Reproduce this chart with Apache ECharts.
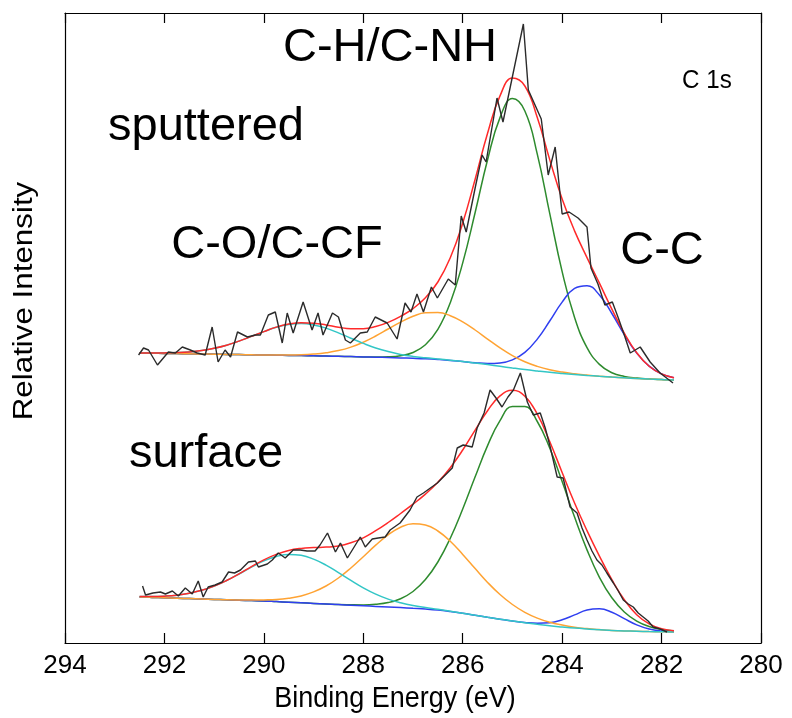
<!DOCTYPE html>
<html>
<head>
<meta charset="utf-8">
<script src="https://cdn.jsdelivr.net/npm/echarts@6/dist/echarts.min.js"></script>
<style>
html,body{margin:0;padding:0;background:#fff;}
#chart{width:792px;height:718px;}
</style>
</head>
<body>
<div id="chart"></div>
<script>
// Binding energy grid of the fitted curves (eV)
const fitE = [292.5, 292.25, 292.0, 291.75, 291.5, 291.25, 291.0, 290.75, 290.5, 290.25, 290.0, 289.75, 289.5, 289.25, 289.0, 288.75, 288.5, 288.25, 288.0, 287.75, 287.5, 287.25, 287.0, 286.75, 286.5, 286.25, 286.0, 285.75, 285.5, 285.25, 285.0, 284.75, 284.5, 284.25, 284.0, 283.75, 283.5, 283.25, 283.0, 282.75, 282.5, 282.25, 282.0, 281.75];

// Sputtered (upper) spectrum
const upperFit = [290.1, 290.0, 290.1, 290.4, 291.1, 292.5, 294.7, 297.8, 301.9, 306.6, 311.4, 315.9, 318.9, 320.2, 319.8, 318.1, 315.8, 314.3, 314.3, 316.4, 320.6, 326.6, 334.4, 345.2, 361.0, 385.2, 419.9, 463.8, 509.8, 547.1, 564.9, 557.0, 525.4, 483.4, 443.9, 412.1, 385.4, 359.8, 333.9, 309.8, 290.3, 276.8, 269.1, 265.2];
const upperCH = [290.0, 289.8, 289.6, 289.4, 289.2, 289.0, 288.8, 288.6, 288.4, 288.2, 288.0, 287.8, 287.6, 287.4, 287.2, 287.0, 286.7, 286.4, 286.1, 286.0, 286.2, 287.3, 290.5, 298.2, 313.6, 340.3, 380.1, 430.5, 483.2, 525.4, 544.4, 532.0, 488.9, 429.6, 371.3, 325.5, 295.4, 278.6, 270.3, 266.6, 264.9, 263.9, 263.4, 263.0];
const upperCC = [290.0, 289.8, 289.6, 289.4, 289.2, 289.0, 288.8, 288.6, 288.4, 288.2, 288.0, 287.8, 287.6, 287.4, 287.2, 287.0, 286.7, 286.4, 286.1, 285.8, 285.5, 285.1, 284.7, 284.2, 283.5, 282.6, 281.4, 280.3, 279.5, 280.0, 283.1, 290.6, 303.9, 322.0, 340.9, 354.6, 357.3, 347.9, 329.5, 308.4, 289.9, 276.8, 269.1, 265.2];
const upperCO = [290.0, 289.8, 289.6, 289.4, 289.2, 289.0, 288.8, 288.6, 288.4, 288.2, 288.0, 288.0, 288.0, 288.2, 288.9, 290.2, 292.4, 295.9, 300.8, 307.0, 314.0, 320.9, 326.7, 330.2, 330.4, 327.3, 321.1, 313.0, 303.9, 295.1, 287.4, 281.2, 276.6, 273.2, 270.9, 269.2, 267.9, 266.7, 265.9, 265.2, 264.5, 263.9, 263.4, 263.0];
const upperCF = [290.1, 290.0, 290.1, 290.4, 291.1, 292.5, 294.7, 297.8, 301.9, 306.6, 311.4, 315.7, 318.5, 319.4, 318.1, 314.9, 310.1, 304.8, 299.6, 295.0, 291.4, 288.6, 286.6, 285.2, 284.0, 282.8, 281.5, 280.0, 278.4, 276.7, 275.0, 273.4, 272.0, 270.7, 269.6, 268.6, 267.6, 266.7, 265.9, 265.2, 264.5, 263.9, 263.4, 263.0];
const upperRawE = [292.52, 292.42, 292.32, 292.14, 291.92, 291.78, 291.64, 291.48, 291.34, 291.18, 291.04, 290.92, 290.78, 290.67, 290.53, 290.33, 290.17, 290.07, 289.91, 289.77, 289.63, 289.53, 289.41, 289.21, 289.03, 288.91, 288.81, 288.62, 288.50, 288.36, 288.26, 288.06, 287.92, 287.76, 287.52, 287.32, 287.16, 287.04, 286.92, 286.79, 286.63, 286.51, 286.29, 286.15, 286.03, 285.93, 285.75, 285.61, 285.53, 285.31, 285.19, 284.78, 284.68, 284.42, 284.28, 284.14, 284.00, 283.86, 283.68, 283.50, 283.42, 283.28, 283.14, 282.99, 282.87, 282.75, 282.63, 282.43, 282.23, 282.03, 281.77];
const upperRawI = [288, 295, 293, 278, 291, 290, 296, 293, 290, 288, 316, 281, 293, 286, 311, 306, 308, 308, 328, 331, 300, 330, 310, 341, 313, 330, 308, 330, 326, 303, 300, 310, 311, 326, 320, 304, 340, 331, 349, 331, 356, 345, 364, 358, 427, 411, 455, 488, 481, 545, 521, 619, 553, 524, 468, 496, 429, 431, 425, 416, 375, 359, 338, 341, 325, 308, 290, 296, 281, 270, 260];

// Surface (lower) spectrum
const lowerFit = [46.4, 46.4, 46.8, 47.8, 49.7, 52.7, 56.9, 62.5, 69.2, 76.4, 83.2, 88.6, 92.6, 94.6, 95.4, 95.9, 97.0, 100.2, 105.2, 112.3, 120.5, 129.5, 138.8, 148.9, 160.7, 175.3, 193.0, 212.9, 232.3, 247.1, 252.8, 246.8, 228.8, 201.5, 170.5, 140.0, 112.4, 86.9, 63.4, 43.2, 28.3, 19.1, 14.4, 12.3];
const lowerCH = [46.0, 45.6, 45.2, 44.8, 44.4, 44.0, 43.6, 43.2, 42.8, 42.4, 42.0, 41.4, 40.8, 40.2, 39.6, 39.0, 38.4, 38.2, 38.1, 38.7, 40.4, 44.3, 51.5, 63.4, 81.0, 104.8, 134.0, 166.2, 197.4, 222.4, 236.6, 236.4, 221.5, 195.0, 161.4, 125.9, 93.1, 65.7, 45.2, 31.0, 21.9, 16.5, 13.6, 12.1];
const lowerCC = [46.0, 45.6, 45.2, 44.8, 44.4, 44.0, 43.6, 43.2, 42.8, 42.4, 42.0, 41.4, 40.8, 40.2, 39.6, 39.0, 38.4, 37.8, 37.2, 36.6, 36.0, 35.4, 34.7, 34.0, 33.0, 31.5, 29.7, 27.7, 25.7, 23.8, 22.0, 20.6, 19.8, 20.2, 23.2, 28.1, 32.9, 34.2, 30.8, 24.3, 18.1, 14.0, 12.0, 11.2];
const lowerCO = [46.0, 45.6, 45.2, 44.8, 44.4, 44.0, 43.6, 43.2, 43.0, 42.9, 43.1, 43.5, 44.8, 47.1, 51.1, 57.0, 65.0, 75.0, 86.3, 97.9, 108.2, 115.8, 119.3, 118.1, 112.0, 101.7, 88.6, 74.4, 60.6, 48.5, 38.5, 30.7, 24.9, 20.7, 17.9, 15.8, 14.4, 13.4, 12.6, 12.1, 11.7, 11.4, 11.2, 11.0];
const lowerCF = [46.4, 46.4, 46.8, 47.8, 49.7, 52.7, 56.9, 62.5, 69.0, 75.9, 82.1, 86.5, 88.6, 87.7, 83.9, 77.9, 70.4, 62.6, 55.2, 48.9, 43.9, 40.2, 37.4, 35.4, 33.7, 31.8, 29.8, 27.7, 25.7, 23.8, 22.0, 20.3, 18.7, 17.2, 16.0, 14.9, 14.0, 13.2, 12.6, 12.1, 11.7, 11.4, 11.2, 11.0];
const lowerRawE = [292.44, 292.38, 292.23, 292.08, 291.98, 291.84, 291.72, 291.58, 291.44, 291.32, 291.22, 291.12, 290.98, 290.84, 290.71, 290.59, 290.47, 290.31, 290.17, 290.11, 289.93, 289.83, 289.71, 289.57, 289.41, 289.27, 289.13, 288.97, 288.87, 288.72, 288.56, 288.46, 288.32, 288.06, 287.96, 287.82, 287.70, 287.56, 287.46, 287.26, 287.06, 286.92, 286.79, 286.65, 286.51, 286.35, 286.21, 286.11, 285.99, 285.81, 285.71, 285.57, 285.45, 285.33, 285.21, 285.09, 284.98, 284.84, 284.70, 284.58, 284.44, 284.34, 284.24, 284.10, 283.98, 283.84, 283.70, 283.60, 283.50, 283.40, 283.30, 283.20, 283.10, 282.97, 282.87, 282.77, 282.67, 282.57, 282.47, 282.37, 282.27, 282.17, 282.03, 281.89];
const lowerRawI = [57, 48, 50, 51, 49, 52, 47, 55, 49, 62, 46, 56, 58, 61, 71, 70, 73, 81, 82, 76, 79, 83, 90, 85, 93, 93, 92, 92, 98, 110, 91, 100, 85, 106, 96, 104, 105, 106, 113, 120, 133, 146, 150, 155, 160, 168, 175, 195, 198, 196, 215, 230, 253, 245, 236, 246, 253, 270, 241, 228, 230, 215, 196, 166, 165, 136, 130, 115, 103, 92, 83, 78, 70, 60, 52, 43, 39, 36, 30, 26, 22, 16, 14, 11];

// Axis ticks
const xTicks = [294, 292, 290, 288, 286, 284, 282, 280];

// Annotations
const labels = [
  {text: 'C-H/C-NH', x: 390, y: 48, size: 47},
  {text: 'sputtered', x: 206, y: 127, size: 47},
  {text: 'C-O/C-CF', x: 277, y: 245, size: 47},
  {text: 'C-C', x: 662, y: 251, size: 47},
  {text: 'surface', x: 206, y: 454, size: 47}
];

const COL = {raw: '#2b2b2b', fit: '#ff2a2a', ch: '#2e8b2e', cc: '#2f3ff0', co: '#ffa333', cf: '#33c6c6'};
const annFont = "'Liberation Sans', Arial, sans-serif";
const axisFont = "'Liberation Sans Narrow', 'Arial Narrow', 'Liberation Sans', Arial, sans-serif";

function pairs(xs, ys) { return xs.map((x, i) => [x, ys[i]]); }
function fitLine(name, ys, color, z) {
  return {name: name, type: 'line', data: pairs(fitE, ys), smooth: 0.45,
    showSymbol: false, symbol: 'none', lineStyle: {color: color, width: 1.5}, z: z, silent: true, animation: false};
}
function rawLine(name, xs, ys) {
  return {name: name, type: 'line', data: pairs(xs, ys), smooth: false, showSymbol: false, symbol: 'none',
    lineStyle: {color: COL.raw, width: 1.4}, z: 10, silent: true, animation: false};
}

const chart = echarts.init(document.getElementById('chart'), null, {renderer: 'canvas'});
const xBase = {type: 'value', min: 280, max: 294, interval: 2, inverse: true, splitLine: {show: false}};
chart.setOption({
  animation: false,
  backgroundColor: '#fff',
  grid: {left: 65, right: 31, top: 13, bottom: 75, containLabel: false},
  xAxis: [
    Object.assign({}, xBase, {position: 'bottom',
      axisLine: {show: true, onZero: false, lineStyle: {color: '#000', width: 1.2}},
      axisTick: {show: true, inside: true, length: 10, lineStyle: {color: '#000', width: 1.2}},
      axisLabel: {show: true, color: '#000', fontSize: 26, fontFamily: axisFont, margin: 10,
        formatter: v => xTicks.indexOf(v) >= 0 ? String(v) : ''}}),
    Object.assign({}, xBase, {position: 'top',
      axisLine: {show: true, onZero: false, lineStyle: {color: '#000', width: 1.2}},
      axisTick: {show: true, inside: true, length: 10, lineStyle: {color: '#000', width: 1.2}},
      axisLabel: {show: false}})
  ],
  yAxis: [
    {type: 'value', min: 0, max: 630, position: 'left', splitLine: {show: false},
      axisLine: {show: true, onZero: false, lineStyle: {color: '#000', width: 1.2}},
      axisTick: {show: false}, axisLabel: {show: false}},
    {type: 'value', min: 0, max: 630, position: 'right', splitLine: {show: false},
      axisLine: {show: true, onZero: false, lineStyle: {color: '#000', width: 1.2}},
      axisTick: {show: false}, axisLabel: {show: false}}
  ],
  series: [
    fitLine('sputtered C-H/C-NH', upperCH, COL.ch, 2),
    fitLine('sputtered C-C', upperCC, COL.cc, 3),
    fitLine('sputtered C-O', upperCO, COL.co, 4),
    fitLine('sputtered C-CF', upperCF, COL.cf, 5),
    fitLine('sputtered fit', upperFit, COL.fit, 6),
    rawLine('sputtered data', upperRawE, upperRawI),
    fitLine('surface C-H/C-NH', lowerCH, COL.ch, 2),
    fitLine('surface C-C', lowerCC, COL.cc, 3),
    fitLine('surface C-O', lowerCO, COL.co, 4),
    fitLine('surface C-CF', lowerCF, COL.cf, 5),
    fitLine('surface fit', lowerFit, COL.fit, 6),
    rawLine('surface data', lowerRawE, lowerRawI)
  ],
  graphic: labels.map(l => ({type: 'text', x: l.x, y: l.y, z: 20, silent: true,
    style: {text: l.text, fontSize: l.size, fontFamily: annFont, fill: '#000', align: 'center', verticalAlign: 'middle'}}))
    .concat([
      {type: 'text', x: 707, y: 81, z: 20, silent: true, scaleX: 1.1, scaleY: 1.15,
        style: {text: 'C 1s', fontSize: 22, fontFamily: annFont, fill: '#000', align: 'center', verticalAlign: 'middle'}},
      {type: 'text', x: 395, y: 699, z: 20, silent: true, scaleY: 1.1,
        style: {text: 'Binding Energy (eV)', fontSize: 27, fontFamily: annFont, fill: '#000', align: 'center', verticalAlign: 'middle'}},
      {type: 'text', x: 25, y: 301, rotation: Math.PI / 2, scaleX: 1.16, z: 20, silent: true,
        style: {text: 'Relative Intensity', fontSize: 27, fontFamily: annFont, fill: '#000', align: 'center', verticalAlign: 'middle'}}
    ])
});
</script>
</body>
</html>
